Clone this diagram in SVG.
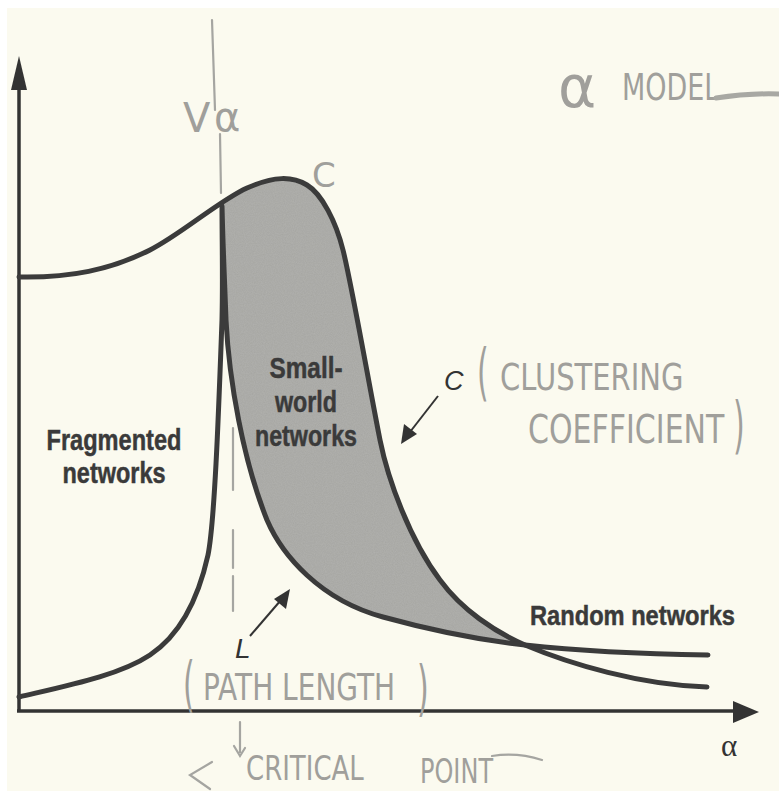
<svg xmlns="http://www.w3.org/2000/svg" width="779" height="791" viewBox="0 0 779 791">
  <style>
    .curve { fill: none; stroke: #3b3b3b; stroke-width: 5; stroke-linecap: round; stroke-linejoin: round; }
    .axis { fill: none; stroke: #333; stroke-width: 3.5; }
    .head { fill: #333; }
    .lbl { font-family: "Liberation Sans", Arial, sans-serif; font-weight: bold; fill: #3a3a3a; stroke: #3a3a3a; stroke-width: 0.5; }
    .sym { font-family: "Liberation Sans", Arial, sans-serif; font-style: italic; fill: #333; }
    .pencil { font-family: "DejaVu Sans", "Liberation Sans", sans-serif; fill: #a09f9b; }
    .pline { fill: none; stroke: #a5a5a1; stroke-width: 2.2; stroke-linecap: round; }
    .thin { fill: none; stroke: #333; stroke-width: 2; }
  </style>
  <defs>
    <filter id="grain" x="0" y="0" width="100%" height="100%">
      <feTurbulence type="fractalNoise" baseFrequency="0.9" numOctaves="2" seed="3" result="n"/>
      <feColorMatrix in="n" type="matrix" values="0 0 0 0 0.55  0 0 0 0 0.55  0 0 0 0 0.54  0 0 0 0.35 0" result="g"/>
      <feComposite in="g" in2="SourceGraphic" operator="in" result="gi"/>
      <feMerge><feMergeNode in="SourceGraphic"/><feMergeNode in="gi"/></feMerge>
    </filter>
  </defs>

  <!-- paper, with the unprinted margin at the top and left -->
  <rect width="779" height="791" fill="#ffffff"/>
  <rect x="7" y="8" width="772" height="783" fill="#fbfaef"/>

  <!-- small-world band between the two curves -->
  <g id="small-world-region">
    <path d="M222,206 Q235,195 247,188 C274,176 292,176 307,185 C322,194 336,222 343,250 C352,286 370,390 380,440 C388,480 410,540 440,580 C462,610 495,632 525,645 C480,640 430,630 383,617 C320,600 282,555 267,520 C243,460 229,380 226,320 L222,206 Z" fill="#a6a6a2" filter="url(#grain)"/>
  </g>

  <!-- axes -->
  <g id="axes">
    <line class="axis" x1="19" y1="86" x2="19" y2="712"/>
    <polygon class="head" points="19,56 11,90 27,90"/>
    <line class="axis" x1="17" y1="711" x2="736" y2="711"/>
    <polygon class="head" points="759,712 733,701 733,723"/>
    <text x="721" y="756" font-family="Liberation Serif, serif" font-size="31" fill="#333">α</text>
  </g>

  <!-- critical-point marker (pencil) -->
  <g id="critical-line">
    <path class="pline" d="M212,20 L215,110"/>
    <path class="pline" d="M220,134 L221,193"/>
    <path class="pline" d="M233,428 L233,490"/>
    <path class="pline" d="M233,530 L233,568"/>
    <path class="pline" d="M233,576 L233,611"/>
    <path class="pline" d="M240,722 L240,752 M234,746 L240,756 L245,748"/>
    <path class="pline" d="M212,762 L190,775 L210,789"/>
    <text class="pencil" x="183" y="132" font-size="40">V</text>
    <text class="pencil" x="214" y="131" font-size="40">α</text>
    <text class="pencil" transform="translate(246,780) scale(1,1.3)" font-size="26">CRITICAL</text>
    <text class="pencil" transform="translate(420,783) scale(1,1.4)" font-size="24">POINT</text>
    <path class="pline" d="M492,756 Q517,752 542,760"/>
  </g>

  <g id="connectors">
    <!-- clustering coefficient C(α) -->
    <path id="curve-c" class="curve" d="M19,277 C70,278 110,270 150,250 C180,235 220,200 247,188 C274,176 292,176 307,185 C322,194 336,222 343,250 C352,286 370,390 380,440 C388,480 410,540 440,580 C462,610 495,632 525,645 C570,664 640,685 707,687"/>
    <!-- path length L(α) -->
    <path id="curve-l" class="curve" d="M19,697 C70,685 120,675 150,655 C180,635 198,600 208,555 C215,520 219,400 222,320 C223,280 222,240 222,206 C223,250 225,290 226,320 C229,380 243,460 267,520 C282,555 320,600 383,617 C430,630 480,640 525,645 C570,650 640,654 708,655"/>
    <!-- pointer arrows -->
    <line class="thin" x1="438" y1="396" x2="410" y2="432"/>
    <polygon class="head" points="401,444 404,424 417,434"/>
    <line class="thin" x1="250" y1="636" x2="281" y2="600"/>
    <polygon class="head" points="290,589 286,609 274,599"/>
  </g>

  <g id="label-fragmented">
    <text class="lbl" x="114" y="450" font-size="30" text-anchor="middle" textLength="135" lengthAdjust="spacingAndGlyphs">Fragmented</text>
    <text class="lbl" x="114" y="483" font-size="30" text-anchor="middle" textLength="103" lengthAdjust="spacingAndGlyphs">networks</text>
  </g>

  <g id="label-small-world">
    <text class="lbl" x="306" y="378" font-size="30" text-anchor="middle" textLength="73" lengthAdjust="spacingAndGlyphs">Small-</text>
    <text class="lbl" x="306" y="412" font-size="30" text-anchor="middle" textLength="62" lengthAdjust="spacingAndGlyphs">world</text>
    <text class="lbl" x="306" y="446" font-size="30" text-anchor="middle" textLength="102" lengthAdjust="spacingAndGlyphs">networks</text>
  </g>

  <g id="label-random">
    <text class="lbl" x="530" y="625" font-size="28" textLength="205" lengthAdjust="spacingAndGlyphs">Random networks</text>
  </g>

  <g id="label-c">
    <text class="sym" x="444" y="390" font-size="27">C</text>
    <text class="pencil" transform="translate(477,393) scale(1,2.1)" font-size="30">(</text>
    <text class="pencil" transform="translate(500,390) scale(1,1.3)" font-size="29">CLUSTERING</text>
    <text class="pencil" transform="translate(528,443) scale(1,1.3)" font-size="30">COEFFICIENT</text>
    <text class="pencil" transform="translate(733,446) scale(1,2.1)" font-size="30">)</text>
  </g>

  <g id="label-l">
    <text class="sym" x="235" y="658" font-size="28">L</text>
    <text class="pencil" transform="translate(183,705) scale(1,2.0)" font-size="30">(</text>
    <text class="pencil" transform="translate(203,700) scale(1,1.35)" font-size="28">PATH LENGTH</text>
    <text class="pencil" transform="translate(417,709) scale(1,2.0)" font-size="30">)</text>
  </g>

  <g id="label-c-top">
    <text class="pencil" x="312" y="187" font-size="34">C</text>
  </g>

  <g id="note-model">
    <text class="pencil" x="558" y="107" font-size="58">α</text>
    <text class="pencil" transform="translate(622,100) scale(1,1.4)" font-size="27">MODEL</text>
    <path d="M716,98 Q748,93 779,94" fill="none" stroke="#a8a8a3" stroke-width="5" stroke-linecap="round"/>
  </g>
</svg>
